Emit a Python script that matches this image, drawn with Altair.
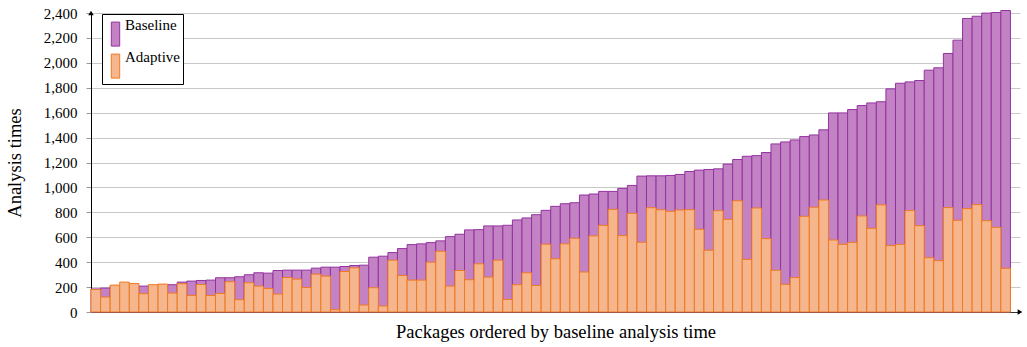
import altair as alt
import pandas as pd

# Analysis time per package, ordered by the baseline run
baseline = [
    185, 192, 208, 212, 212, 208, 214, 218, 219, 240,
    248, 253, 256, 275, 275, 283, 299, 315, 312, 333,
    336, 336, 336, 352, 360, 360, 365, 373, 376, 440,
    448, 477, 509, 541, 547, 557, 571, 605, 624, 659,
    661, 691, 691, 696, 739, 755, 781, 816, 848, 869,
    877, 939, 947, 968, 968, 992, 1016, 1091, 1093, 1093,
    1096, 1104, 1128, 1139, 1144, 1149, 1187, 1224, 1250, 1255,
    1280, 1349, 1365, 1381, 1408, 1421, 1462, 1598, 1598, 1625,
    1657, 1678, 1688, 1791, 1836, 1847, 1858, 1941, 1960, 2075,
    2182, 2356, 2374, 2399, 2404, 2420,
]
adaptive = [
    180, 120, 216, 240, 229, 147, 219, 224, 152, 227,
    133, 221, 133, 149, 243, 99, 235, 208, 189, 144,
    277, 264, 197, 304, 288, 19, 325, 355, 56, 195,
    48, 416, 293, 256, 256, 400, 488, 208, 333, 259,
    387, 280, 416, 101, 219, 315, 213, 544, 427, 547,
    592, 321, 611, 696, 824, 613, 792, 560, 837, 821,
    808, 819, 821, 664, 496, 813, 744, 893, 422, 835,
    589, 335, 222, 276, 768, 841, 899, 578, 543, 559,
    771, 672, 860, 533, 543, 814, 693, 436, 412, 838,
    736, 830, 862, 733, 680, 351,
]
series_names = ["Baseline", "Adaptive"]
fill_colors = ["#c282c4", "#f5b68e"]
stroke_colors = ["#93339f", "#ef7a22"]
y_ticks = list(range(0, 2401, 200))

rows = []
for k, (name, values) in enumerate(zip(series_names, [baseline, adaptive])):
    for i, v in enumerate(values):
        rows.append({"series": name, "series_order": k, "pos": i,
                     "pos_end": i + 1, "time": v, "base": 0})
df = pd.DataFrame(rows)

FONT = "Liberation Serif"
n = len(baseline)

x_scale = alt.Scale(domain=[0, n + 1], nice=False, zero=False)
y_scale = alt.Scale(domain=[0, 2400], nice=False)

x_axis = alt.Axis(title="Packages ordered by baseline analysis time",
                  ticks=False, labels=False, grid=False,
                  domainColor="#333333", titlePadding=10)
y_axis = alt.Axis(title="Analysis times", values=y_ticks, format=",d",
                  grid=True, gridColor="#c8c8c8", tickColor="#999999",
                  tickSize=5, labelPadding=9, domainColor="#000000",
                  labelOverlap=False, titlePadding=19)

bars = alt.Chart(df).mark_bar(strokeWidth=1, opacity=1).encode(
    x=alt.X("pos:Q", scale=x_scale, axis=x_axis),
    x2="pos_end:Q",
    y=alt.Y("time:Q", stack=None, scale=y_scale, axis=y_axis),
    y2="base:Q",
    color=alt.Color("series:N",
                    scale=alt.Scale(domain=series_names, range=fill_colors),
                    legend=alt.Legend(
                        title=None, orient="none", legendX=11, legendY=1,
                        strokeColor="#000000", fillColor="#ffffff",
                        padding=3, rowPadding=-5,
                        symbolType="M-0.3,-0.6H1.8V5.4H-0.3Z", symbolSize=64,
                        symbolStrokeWidth=1, labelOffset=5,
                        labelFont=FONT, labelFontSize=15, labelColor="#000000")),
    stroke=alt.Stroke("series:N",
                      scale=alt.Scale(domain=series_names, range=stroke_colors),
                      legend=None),
    order=alt.Order("series_order:Q"),
)

# arrow heads at the ends of both axes
arrow_up = alt.Chart().mark_point(shape="triangle-up", filled=True, color="black",
                                  size=30, opacity=1).encode(
    x=alt.XDatum(0, scale=x_scale, axis=x_axis),
    y=alt.YDatum(2400, scale=y_scale, axis=y_axis))
arrow_right = alt.Chart().mark_point(shape="triangle-right", filled=True,
                                     color="black", size=30, opacity=1).encode(
    x=alt.XDatum(n + 1, scale=x_scale, axis=x_axis),
    y=alt.YDatum(0, scale=y_scale, axis=y_axis))

chart = alt.layer(bars, arrow_up, arrow_right).properties(
    width=929, height=299,
    autosize=alt.AutoSizeParams(type="none"),
    padding={"left": 91, "top": 13, "right": 7, "bottom": 35},
).configure_view(stroke=None).configure_axis(
    labelFont=FONT, labelFontSize=15, labelColor="#000000",
    titleFont=FONT, titleFontSize=18.5, titleFontWeight="normal",
    titleColor="#000000",
).configure_axisY(labelOverlap=False)

chart.save("out.html", embed_options={"renderer": "svg", "actions": False})
